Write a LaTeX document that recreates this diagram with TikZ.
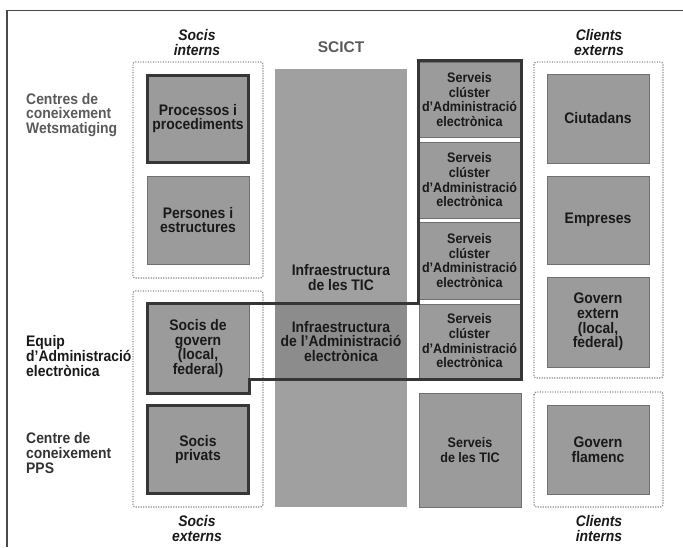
\documentclass[tikz,border=0pt]{standalone}
\usepackage{fontspec}
\setmainfont{Liberation Sans}
\newfontfamily\narrowsans{Liberation Sans}[FakeStretch=0.91]
\definecolor{boxgray}{HTML}{9B9B9B}
\definecolor{colgray}{HTML}{A0A0A0}
\definecolor{infragray}{HTML}{8C8C8C}
\definecolor{edgegray}{HTML}{707070}
\definecolor{heavygray}{HTML}{363636}
\definecolor{dotgray}{HTML}{8A8A8A}
\definecolor{framegray}{HTML}{4A4A4A}
\definecolor{labelgray}{HTML}{5A5A5A}
\begin{document}
\begin{tikzpicture}[x=1pt,y=-1pt,
  every node/.style={font=\narrowsans\bfseries\fontsize{15.3}{14.6}\selectfont,
    align=center, inner sep=0pt, text=black!90},
  graybox/.style={draw=edgegray, line width=1pt, fill=boxgray},
  size/.style 2 args={minimum width=#1pt, minimum height=#2pt},
  heavy/.style={draw=heavygray, line width=3pt},
  dotbox/.style={draw=dotgray, line width=1.2pt, dash pattern=on 1.2pt off 1.3pt,
    rounded corners=2.5pt},
  smalltext/.style={font=\narrowsans\bfseries\fontsize{13.8}{14.7}\selectfont},
  cluster/.style={graybox, size={101}{#1}, smalltext},
  sidelabel/.style={anchor=west, align=left},
  grouplabel/.style={font=\narrowsans\bfseries\itshape\fontsize{15.3}{15}\selectfont},
  outline/.style={draw=heavygray, line width=3pt, line join=miter}
]
\useasboundingbox (0,0) rectangle (683,547);

% open frame along the top and left edges
\draw[framegray, line width=1.3pt] (7,547) -- (7,10.5) -- (683,10.5);

% dotted group frames
\draw[dotbox] (133,62) rectangle (263,278);
\draw[dotbox] (133,291) rectangle (263,507);
\draw[dotbox] (534,62) rectangle (663,378);
\draw[dotbox] (534,392) rectangle (663,507);

% SCICT column and its e-government infrastructure band
\node[fill=colgray, size={132}{438}] (scictcol) at (341,288) {};
\node[fill=infragray, size={132}{76}] (infraband) at (341,341) {};

% left-hand boxes
\node[graybox, heavy, size={101}{87}] (proc) at (198,118.5) {Processos i\\procediments};
\node[graybox, size={102}{88}] (pers) at (198,220) {Persones i\\estructures};
\node[graybox, size={102}{89}] (govern) at (198,348.5) {Socis de\\govern\\(local,\\federal)};
\node[graybox, heavy, size={101}{88}] (privats) at (198,449.5) {Socis\\privats};

% cluster services and ICT services
\node[cluster=75] (srv1) at (469.5,99.5) {Serveis\\clúster\\d’Administració\\electrònica};
\node[cluster=76] (srv2) at (469.5,180) {Serveis\\clúster\\d’Administració\\electrònica};
\node[cluster=77] (srv3) at (469.5,260.5) {Serveis\\clúster\\d’Administració\\electrònica};
\node[cluster=74] (srv4) at (469.5,341) {Serveis\\clúster\\d’Administració\\electrònica};
\node[graybox, size={102}{114}, smalltext] (srvtic) at (470,450) {Serveis\\de les TIC};

% right-hand boxes
\node[graybox, size={102}{89}] (ciut) at (598,118.5) {Ciutadans};
\node[graybox, size={102}{88}] (empr) at (598,220) {Empreses};
\node[graybox, size={102}{90}] (govext) at (598,322) {Govern\\extern\\(local,\\federal)};
\node[graybox, size={102}{89}] (govfl) at (598,449.5) {Govern\\flamenc};

% heavy outline around the e-government team
\draw[outline] (147,303) -- (418,303) -- (418,60) -- (521,60) -- (521,379)
  -- (249,379) -- (249,393) -- (147,393) -- cycle;

% column texts
\node[text=labelgray, font=\bfseries\fontsize{15.5}{16}\selectfont] (scict) at (341,47) {SCICT};
\node (infratic) at (341,277.5) {Infraestructura\\de les TIC};
\node (infraae) at (341,341.5) {Infraestructura\\de l’Administració\\electrònica};

% group captions
\node[grouplabel] (sint) at (197,42.5) {Socis\\interns};
\node[grouplabel] (cext) at (599,42.5) {Clients\\externs};
\node[grouplabel] (sext) at (197,529) {Socis\\externs};
\node[grouplabel] (cint) at (599,529) {Clients\\interns};

% row captions
\node[sidelabel, text=labelgray] (wets) at (26,115) {Centres de\\coneixement\\Wetsmatiging};
\node[sidelabel] (equip) at (26,356) {Equip\\d’Administració\\electrònica};
\node[sidelabel, text=black!80] (pps) at (26,453) {Centre de\\coneixement\\PPS};
\end{tikzpicture}
\end{document}
